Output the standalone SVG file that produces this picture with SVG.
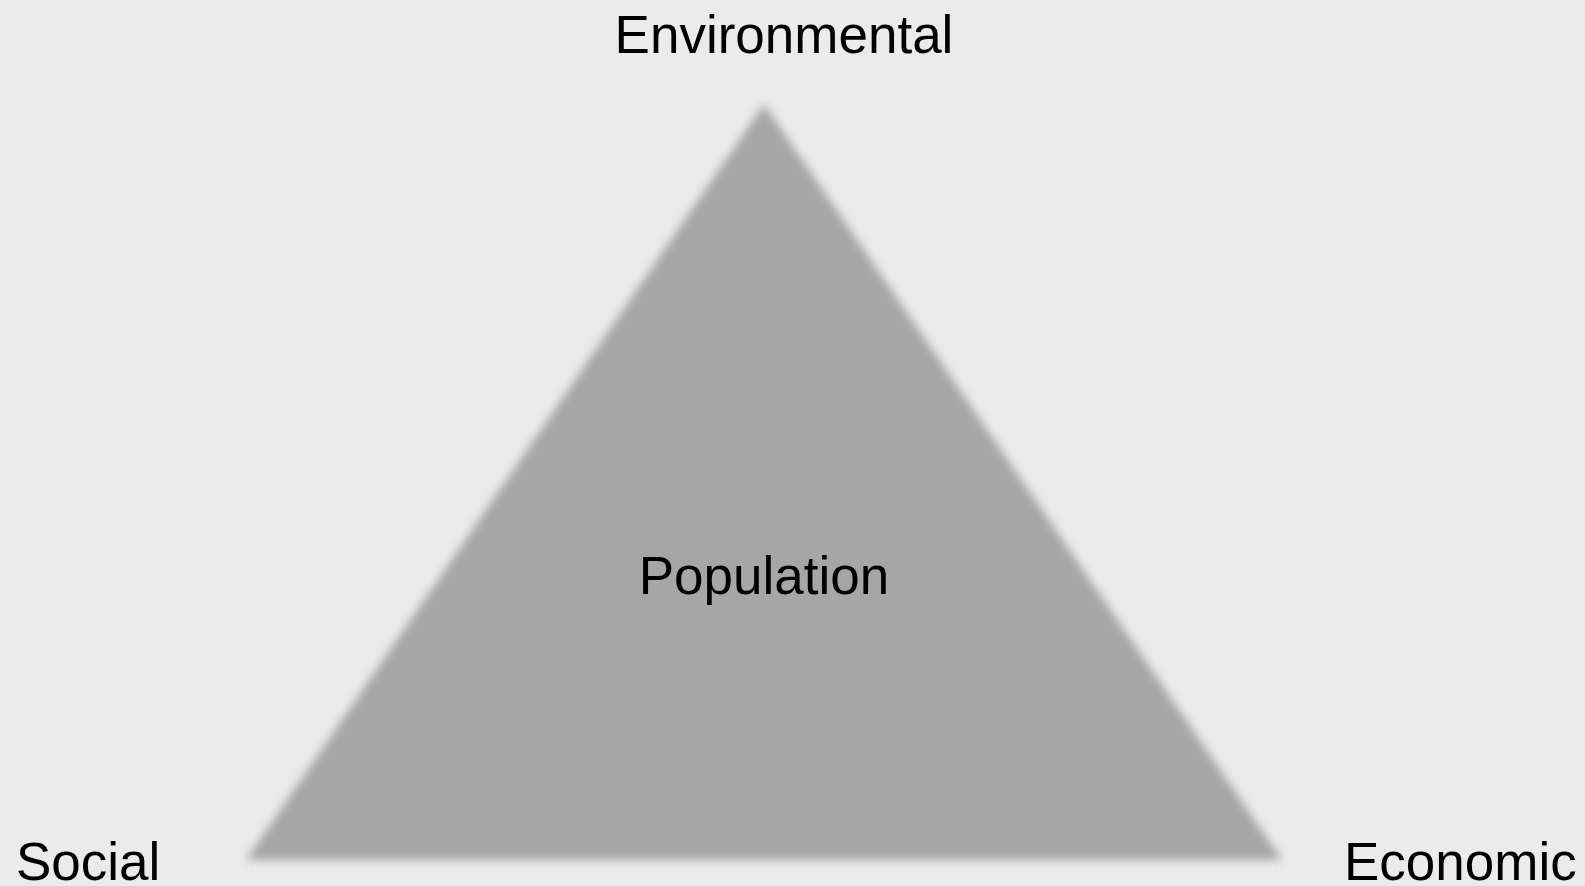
<svg xmlns="http://www.w3.org/2000/svg" width="1585" height="886" viewBox="0 0 1585 886">
<style>
.lbl{font-family:"Liberation Sans",Arial,sans-serif;font-size:53px;fill:#000}
</style>
<defs>
<filter id="blur" x="-10%" y="-10%" width="120%" height="120%"><feGaussianBlur stdDeviation="5"/></filter>
</defs>
<rect width="1585" height="886" fill="#ebebeb"/>
<g id="triangle">
<polygon points="764,104 246,860 1282,860" fill="#a6a6a6" filter="url(#blur)"/>
<text class="lbl" x="764" y="594" text-anchor="middle">Population</text>
</g>
<g id="environmental"><text class="lbl" x="784" y="53" text-anchor="middle">Environmental</text></g>
<g id="social"><text class="lbl" x="16" y="880">Social</text></g>
<g id="economic"><text class="lbl" x="1344" y="880">Economic</text></g>
<g id="connectors"></g>
</svg>
